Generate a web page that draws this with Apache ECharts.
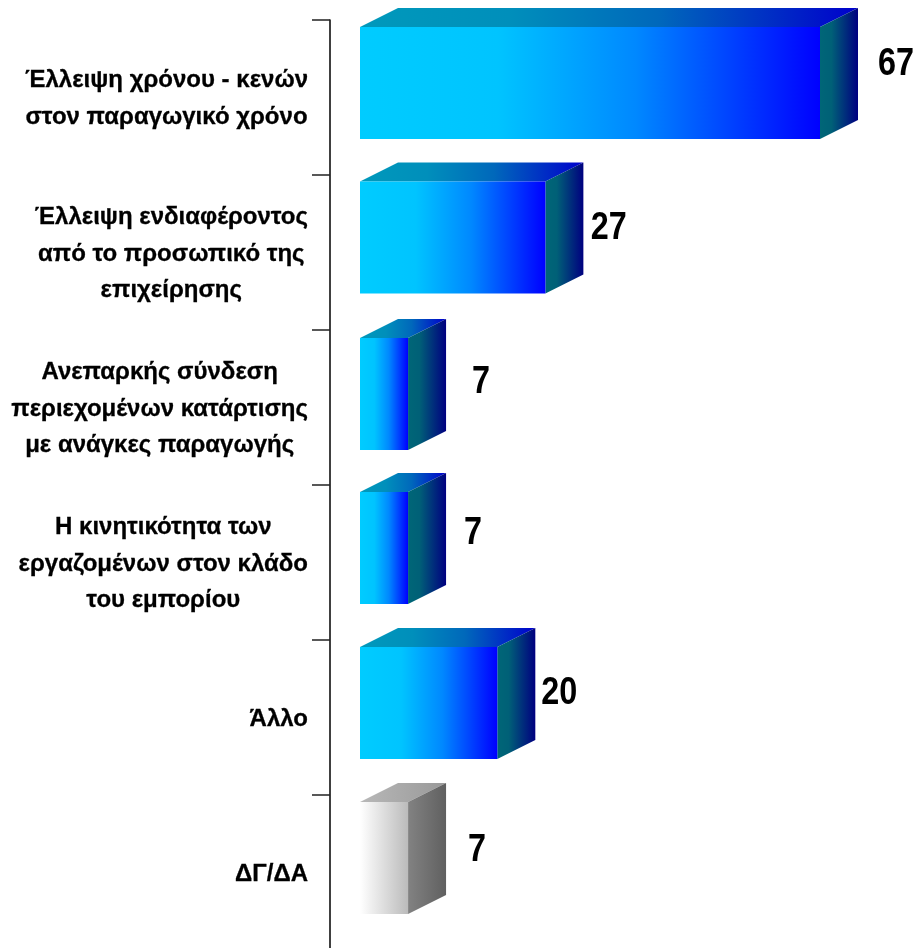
<!DOCTYPE html>
<html><head><meta charset="utf-8">
<style>html,body{margin:0;padding:0;background:#fff;overflow:hidden}#c{width:914px;height:948px}</style>
<script src="https://cdn.jsdelivr.net/npm/echarts@6/dist/echarts.min.js"></script>
</head><body><div id="c"></div>
<script>
const categories = [
  'Έλλειψη χρόνου - κενών\nστον παραγωγικό χρόνο',
  'Έλλειψη ενδιαφέροντος\nαπό το προσωπικό της\nεπιχείρησης',
  'Ανεπαρκής σύνδεση\nπεριεχομένων κατάρτισης\nμε ανάγκες παραγωγής',
  'Η κινητικότητα των\nεργαζομένων στον κλάδο\nτου εμπορίου',
  'Άλλο',
  'ΔΓ/ΔΑ'
];
const values = [67, 27, 7, 7, 20, 7];
const paletteIndex = [0, 0, 0, 0, 0, 1];
const labelDx = [76, 63.5, 73, 65, 62, 69];
const labelDy = [-33, -24, -25, -29, -24, -22];
const barDy = [-0.5, -1, 0.5, -0.5, -0.5, -0.5];

const palettes = [
  { front: [[0,'#00ccff'],[0.3,'#00c4ff'],[0.6,'#0088ff'],[1,'#0000ff']], top: [[0,'#0099bb'],[0.3,'#008fbb'],[0.6,'#0068bb'],[1,'#0000cc']], side: [[0,'#006677'],[0.3,'#006077'],[1,'#000080']] },
  { front: [[0,'#ffffff'],[1,'#bbbbbb']], top: [[0,'#b8b8b8'],[1,'#999999']], side: [[0,'#828282'],[1,'#606060']] }
];
const grad = s => new echarts.graphic.LinearGradient(0,0,1,0,s.map(p=>({offset:p[0],color:p[1]})));
const DEPTH_X = 38, DEPTH_Y = 19, BAR_H = 112, BAR_SHIFT = -14;

const chart = echarts.init(document.getElementById('c'), null, {renderer:'canvas'});
chart.setOption({
  animation:false,
  backgroundColor:'#fff',
  grid:{left:360, top:20, width:460, height:930, outerBoundsMode:'none'},
  xAxis:{type:'value', min:0, max:67, show:false},
  yAxis:{
    type:'category', inverse:true, data:categories, offset:30,
    axisLine:{show:true, onZero:false, lineStyle:{color:'#000', width:1.5}},
    axisTick:{show:true, length:18, lineStyle:{color:'#222', width:1.5}},
    axisLabel:{
      interval:0, margin:22, align:'right', padding:[3,0,0,0],
      formatter:v=>v.split('\n').map(l=>'{c|'+l+'}').join('\n'),
      rich:{c:{align:'center', fontFamily:'"Liberation Sans"', fontWeight:'bold', fontSize:24, lineHeight:36.5, color:'#000', textBorderColor:'#000', textBorderWidth:0.3}}
    }
  },
  series:[{
    type:'custom',
    coordinateSystem:'cartesian2d',
    data:values.map((v,i)=>[v,i]),
    encode:{x:0,y:1},
    renderItem(params, api){
      const i = api.value(1);
      const end = api.coord([api.value(0), i]);
      const start = api.coord([0, i]);
      const pal = palettes[paletteIndex[i]];
      const x0 = start[0], x1 = end[0];
      const y0 = end[1] + BAR_SHIFT + barDy[i] - BAR_H/2, y1 = y0 + BAR_H;
      return {type:'group', children:[
        {type:'polygon', shape:{points:[[x0,y0],[x0+DEPTH_X,y0-DEPTH_Y],[x1+DEPTH_X,y0-DEPTH_Y],[x1,y0]]}, style:{fill:grad(pal.top)}},
        {type:'polygon', shape:{points:[[x1,y0],[x1+DEPTH_X,y0-DEPTH_Y],[x1+DEPTH_X,y1-DEPTH_Y],[x1,y1]]}, style:{fill:grad(pal.side)}},
        {type:'rect', shape:{x:x0,y:y0,width:x1-x0,height:BAR_H}, style:{fill:grad(pal.front)}},
        {type:'text', x:x1+labelDx[i], y:end[1]+labelDy[i], scaleX:0.83, style:{text:String(values[i]), fontFamily:'"Liberation Sans"', fontWeight:'bold', fontSize:39, fill:'#000', align:'center', verticalAlign:'middle'}}
      ]};
    }
  }]
});
</script></body></html>
